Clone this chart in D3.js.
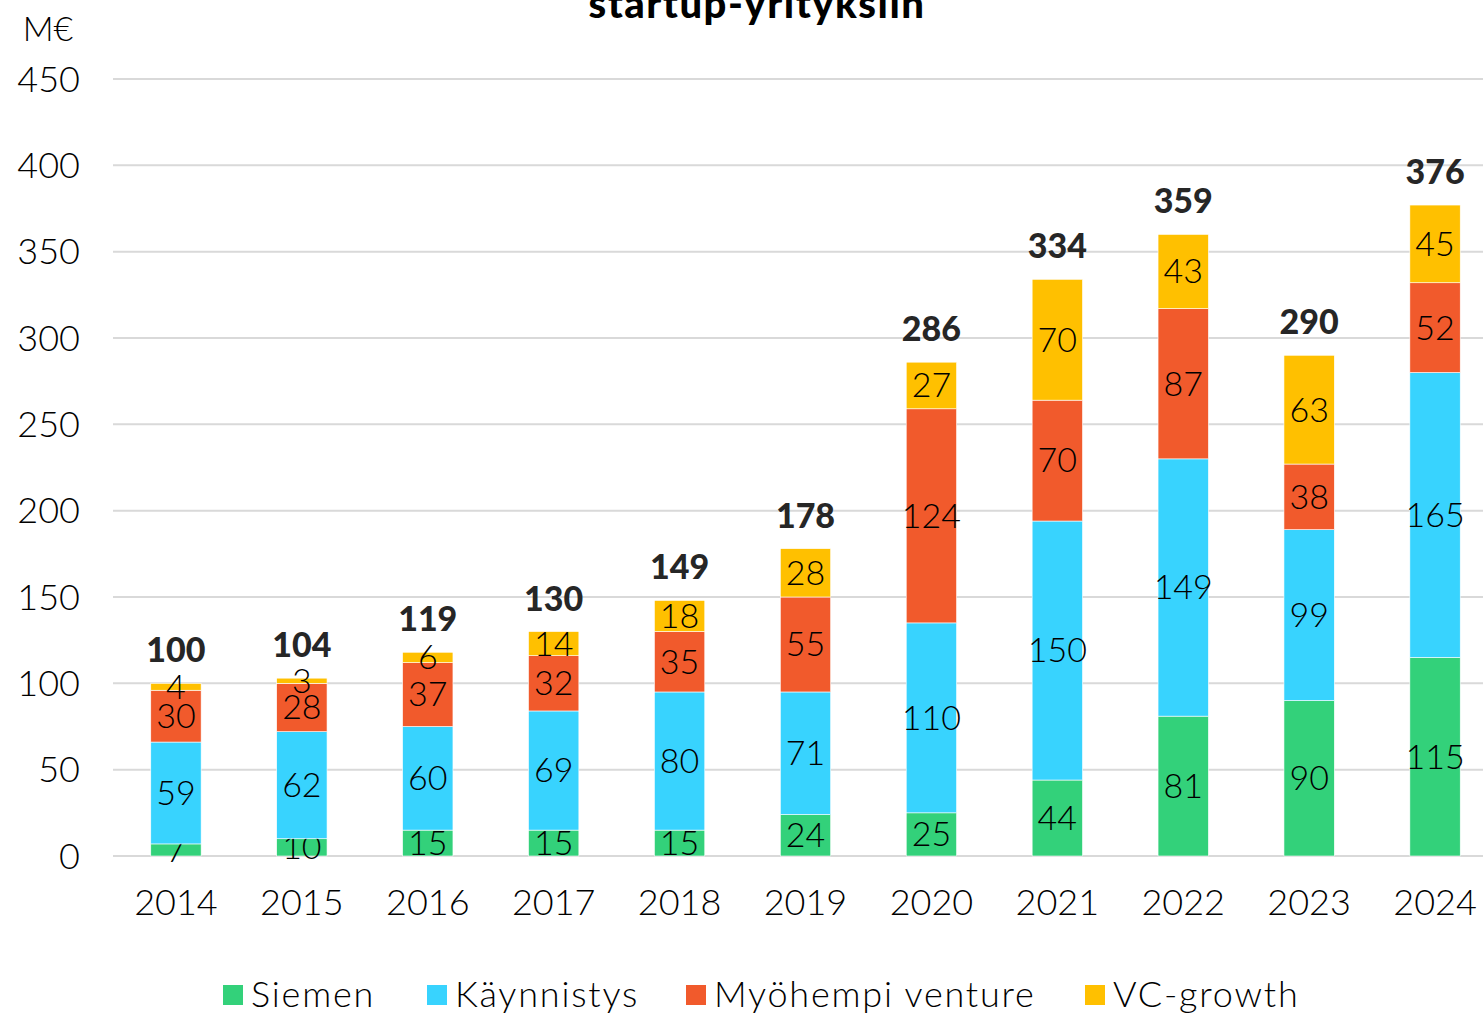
<!DOCTYPE html>
<html>
<head>
<meta charset="utf-8">
<script src="https://cdn.jsdelivr.net/npm/d3@7"></script>
<style>
  body { margin: 0; background: #fff; }
  svg { display: block; font-family: "Lato", "DejaVu Sans", sans-serif; }
</style>
</head>
<body>
<div id="chart"></div>
<script>
(function() {
    var width = 1483, height = 1014;

    // data
    var years = ["2014", "2015", "2016", "2017", "2018", "2019", "2020", "2021", "2022", "2023", "2024"];
    var siemen = [7, 10, 15, 15, 15, 24, 25, 44, 81, 90, 115];
    var kaynnistys = [59, 62, 60, 69, 80, 71, 110, 150, 149, 99, 165];
    var myohempi = [30, 28, 37, 32, 35, 55, 124, 70, 87, 38, 52];
    var vcGrowth = [4, 3, 6, 14, 18, 28, 27, 70, 43, 63, 45];
    var totals = [100, 104, 119, 130, 149, 178, 286, 334, 359, 290, 376];
    var seriesNames = ["Siemen", "Käynnistys", "Myöhempi venture", "VC-growth"];
    var seriesColors = ["#33D17A", "#38D3FE", "#F15A2C", "#FFC000"];
    var yTicks = [0, 50, 100, 150, 200, 250, 300, 350, 400, 450];

    var rows = years.map(function(y, i) {
        return { year: y, s0: siemen[i], s1: kaynnistys[i], s2: myohempi[i], s3: vcGrowth[i], total: totals[i] };
    });
    var keys = ["s0", "s1", "s2", "s3"];

    var svg = d3.select("#chart").append("svg")
        .attr("width", width)
        .attr("height", height);

    var y = d3.scaleLinear().domain([0, 450]).range([856, 79]);
    var x = d3.scaleBand().domain(years).range([113, 1498])
        .paddingInner(0.6).paddingOuter(0.3);

    // title (first line falls above the frame)
    svg.append("text")
        .attr("x", 757).attr("y", 18)
        .attr("text-anchor", "middle")
        .attr("font-size", 40).attr("font-weight", 900)
        .attr("letter-spacing", 1.5)
        .attr("fill", "#000")
        .text("startup-yrityksiin");

    svg.append("text")
        .attr("x", 48).attr("y", 41)
        .attr("text-anchor", "middle")
        .attr("font-size", 34).attr("font-weight", 300)
        .attr("fill", "#000")
        .text("M€");

    // grid + y labels
    svg.selectAll(".grid")
        .data(yTicks)
        .enter().append("line")
        .attr("x1", 113).attr("x2", width)
        .attr("y1", function(d) { return y(d); })
        .attr("y2", function(d) { return y(d); })
        .attr("stroke", "#D9D9D9")
        .attr("stroke-width", 2);

    svg.selectAll(".ylab")
        .data(yTicks)
        .enter().append("text")
        .attr("x", 80)
        .attr("y", function(d) { return y(d); })
        .attr("dy", "0.35em")
        .attr("text-anchor", "end")
        .attr("font-size", 36).attr("font-weight", 300)
        .attr("fill", "#000")
        .text(function(d) { return d; });

    var stacked = d3.stack().keys(keys)(rows);

    var layer = svg.selectAll(".layer")
        .data(stacked)
        .enter().append("g")
        .attr("fill", function(d, i) { return seriesColors[i]; });

    layer.selectAll("rect")
        .data(function(d) { return d; })
        .enter().append("rect")
        .attr("x", function(d) { return x(d.data.year); })
        .attr("width", x.bandwidth())
        .attr("y", function(d) { return y(d[1]); })
        .attr("height", function(d) { return y(d[0]) - y(d[1]); })
        .attr("stroke", "#fff")
        .attr("stroke-width", 0.6);

    // segment labels
    layer.selectAll(".seg")
        .data(function(d) { return d; })
        .enter().append("text")
        .attr("x", function(d) { return x(d.data.year) + x.bandwidth() / 2; })
        .attr("y", function(d) { return (y(d[0]) + y(d[1])) / 2; })
        .attr("dy", "0.35em")
        .attr("text-anchor", "middle")
        .attr("font-size", 34).attr("font-weight", 300)
        .attr("fill", "#000")
        .text(function(d) { return d[1] - d[0]; });

    // totals
    var top = stacked[stacked.length - 1];
    svg.selectAll(".total")
        .data(top)
        .enter().append("text")
        .attr("x", function(d) { return x(d.data.year) + x.bandwidth() / 2; })
        .attr("y", function(d) { return y(d[1]) - 21; })
        .attr("text-anchor", "middle")
        .attr("font-size", 34).attr("font-weight", 900)
        .attr("fill", "#262626")
        .text(function(d) { return d.data.total; });

    // x labels
    svg.selectAll(".xlab")
        .data(years)
        .enter().append("text")
        .attr("x", function(d) { return x(d) + x.bandwidth() / 2; })
        .attr("y", 915)
        .attr("text-anchor", "middle")
        .attr("font-size", 36).attr("font-weight", 300)
        .attr("fill", "#000")
        .text(function(d) { return d; });

    // legend
    var legendX = [223, 427, 686, 1085];
    var legend = svg.selectAll(".legend")
        .data(seriesNames)
        .enter().append("g")
        .attr("transform", function(d, i) { return "translate(" + legendX[i] + ",0)"; });

    legend.append("rect")
        .attr("y", 985).attr("width", 20).attr("height", 20)
        .attr("fill", function(d, i) { return seriesColors[i]; });

    legend.append("text")
        .attr("x", 28).attr("y", 1007)
        .attr("font-size", 36).attr("font-weight", 300)
        .attr("letter-spacing", 1.8)
        .attr("fill", "#000")
        .text(function(d) { return d; });
})();
</script>
</body>
</html>
